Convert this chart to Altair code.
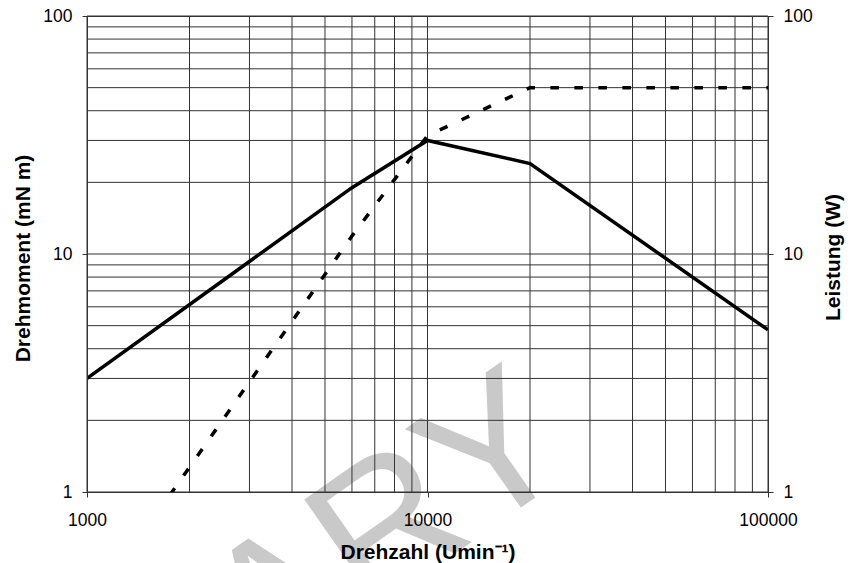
import altair as alt
import pandas as pd

# ---- data ----
speed = [1000, 6000, 10000, 20000, 100000]          # Drehzahl (1/min)
torque = [3.0, 19.0, 30.0, 24.0, 4.8]                # Drehmoment (mN m), solid
power = [0.31, 11.9, 31.4, 50.0, 50.0]               # Leistung (W), dashed

x_grid = [1000, 2000, 3000, 4000, 5000, 6000, 7000, 8000, 9000,
          10000, 20000, 30000, 40000, 50000, 60000, 70000, 80000, 90000, 100000]
y_grid = [1, 2, 3, 4, 5, 6, 7, 8, 9,
          10, 20, 30, 40, 50, 60, 70, 80, 90, 100]
x_ticks = [1000, 10000, 100000]
y_ticks = [1, 10, 100]
watermark = ["PRELIMINARY"]

FONT = "Liberation Sans"
W, H = 681, 476
GRID = "#333333"

x_scale = alt.Scale(type="log", domain=[1000, 100000])
y_scale = alt.Scale(type="log", domain=[1, 100])

x_axis = alt.Axis(values=x_ticks, format="d", grid=False, tickSize=5,
                  tickColor=GRID, domainColor=GRID, labelFontSize=17.5,
                  labelColor="black", labelPadding=14, labelFlush=False,
                  title="Drehzahl (Umin⁻¹)", titleFontSize=21,
                  titleFontWeight="bold", titleColor="black",
                  titleX=340.5, titleY=66, titleBaseline="alphabetic",
                  titleAlign="center", zindex=1)

left_axis = alt.Axis(values=y_ticks, format="d", grid=False, orient="left",
                     tickSize=5, tickColor=GRID, domainColor=GRID,
                     labelFontSize=17.5, labelColor="black", labelPadding=10,
                     title="Drehmoment (mN m)", titleFontSize=21,
                     titleFontWeight="bold", titleColor="black",
                     titleAngle=270, titleX=-58, titleY=242,
                     titleBaseline="alphabetic", titleAlign="center", zindex=1)

right_axis = alt.Axis(values=y_ticks, format="d", grid=False, orient="right",
                      tickSize=5, tickColor=GRID, domainColor=GRID,
                      labelFontSize=17.5, labelColor="black", labelPadding=10,
                      title="Leistung (W)", titleFontSize=21,
                      titleFontWeight="bold", titleColor="black",
                      titleAngle=270, titleX=71, titleY=241,
                      titleBaseline="alphabetic", titleAlign="center", zindex=1)

df = pd.DataFrame({"n": speed, "M": torque, "P": power})

wm = alt.Chart(pd.DataFrame({"t": watermark})).mark_text(
    font=FONT, fontSize=190, fontWeight="normal", color="#c9c9c9",
    angle=325, align="right", baseline="alphabetic"
).encode(text="t:N", x=alt.value(493), y=alt.value(450))

gridx = alt.Chart(pd.DataFrame({"g": x_grid})).mark_rule(
    color=GRID, strokeWidth=1
).encode(x=alt.X("g:Q", scale=x_scale, axis=x_axis))

gridy = alt.Chart(pd.DataFrame({"g": y_grid})).mark_rule(
    color=GRID, strokeWidth=1
).encode(y=alt.Y("g:Q", scale=y_scale, axis=None))

torque_line = alt.Chart(df).mark_line(
    color="black", strokeWidth=3.5, clip=True
).encode(x=alt.X("n:Q", scale=x_scale, axis=x_axis),
         y=alt.Y("M:Q", scale=y_scale, axis=left_axis))

power_line = alt.Chart(df).mark_line(
    color="black", strokeWidth=3.5, strokeDash=[8.5, 15.5], strokeCap="butt",
    clip=True
).encode(x=alt.X("n:Q", scale=x_scale, axis=x_axis),
         y=alt.Y("P:Q", scale=y_scale, axis=right_axis))

chart = alt.layer(wm, gridx, gridy, torque_line, power_line).resolve_scale(
    y="independent"
).properties(
    width=W, height=H,
    autosize=alt.AutoSizeParams(type="none"),
    padding={"left": 79, "top": 8, "right": 84, "bottom": 71},
).configure(font=FONT).configure_view(stroke=GRID, strokeWidth=1)

chart.save("out.html", embed_options={"renderer": "svg", "actions": False})
